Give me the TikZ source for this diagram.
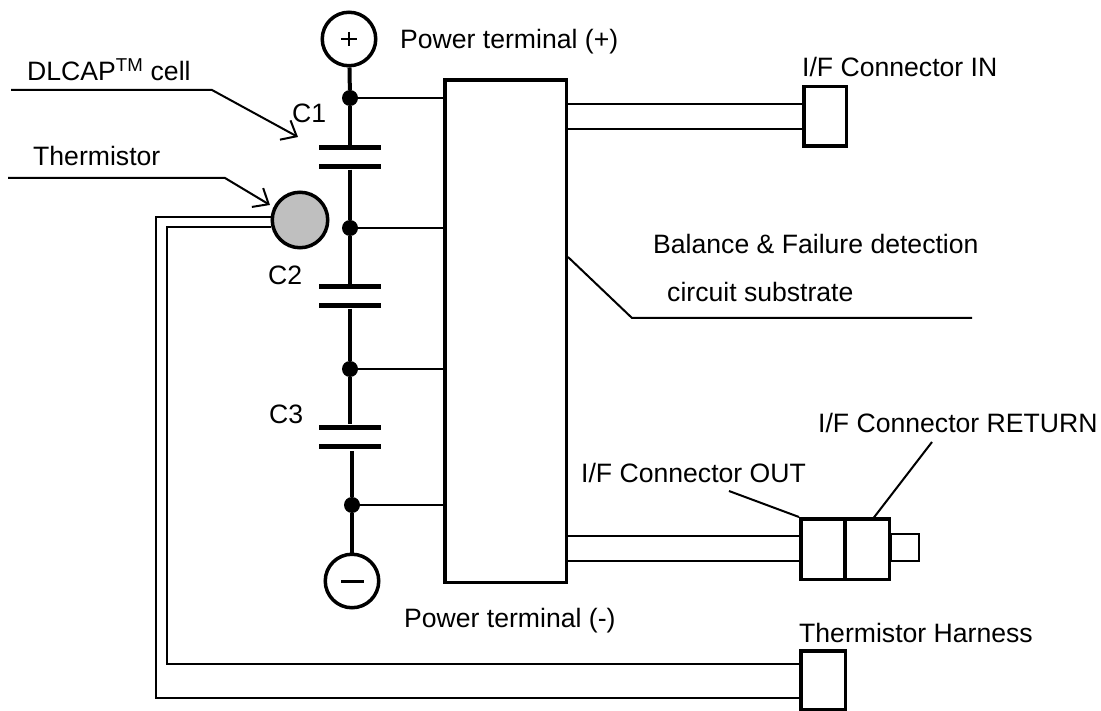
\documentclass[tikz,border=0pt]{standalone}
\usepackage{fontspec}
\setmainfont{Liberation Sans}
\usetikzlibrary{arrows.meta}
\tikzset{
    term/.style={draw, circle, line width=3.5pt, minimum size=53.5pt, inner sep=0pt, fill=white},
    plate/.style={fill=black, minimum width=62pt, minimum height=5pt, inner sep=0pt},
    dot/.style={fill=black, circle, minimum size=16pt, inner sep=0pt},
    conn/.style={draw, line width=3.5pt, inner sep=0pt, fill=white},
    lead/.style={line width=4pt},
    wire/.style={line width=2pt},
    ptr/.style={line width=2pt, -{Straight Barb[length=13pt,width=22pt]}},
    lbl/.style={anchor=base west, inner sep=0pt, font=\fontsize{26.6}{26.6}\selectfont},
}
\newcommand{\drawplates}[3]{
    \node[plate] (#1a) at (350,#2) {};
    \node[plate] (#1b) at (350,#3) {};
}
\begin{document}
\begin{tikzpicture}[x=1pt,y=-1pt]
\useasboundingbox (0,0) rectangle (1101,711);
%Terminals
\node[term] (tplus) at (349,39) {};
\node[term] (tminus) at (352,581) {};
\draw[line width=2.5pt] (341,39) -- (357,39) (349,32) -- (349,46);
\draw[line width=3pt] (341,581) -- (364,581);
%Capacitors
\drawplates{cone}{148}{167}
\drawplates{ctwo}{287}{306}
\drawplates{cthree}{427}{446}
%Junctions
\node[dot] (jone) at (350,98) {};
\node[dot] (jtwo) at (350,228) {};
\node[dot] (jthree) at (350,369) {};
\node[dot] (jfour) at (352,505) {};
%Substrate
\node[conn, minimum width=121.5pt, minimum height=502.5pt] (block) at (505.5,331.3) {};
%Connectors
\node[conn, minimum width=42.5pt, minimum height=59.5pt] (conin) at (825,116.5) {};
\node[draw, line width=2pt, minimum width=28pt, minimum height=27pt, inner sep=0pt] (conend) at (904.5,547.5) {};
\node[conn, minimum width=43.5pt, minimum height=60.5pt] (conout) at (822.5,549) {};
\node[conn, minimum width=44.5pt, minimum height=60.5pt] (conret) at (867,549) {};
\node[conn, minimum width=44.5pt, minimum height=59pt] (conharn) at (823,680.5) {};
%Thermistor
\node[term, fill=black!25, minimum size=55.5pt] (therm) at (300,220) {};
%Vertical line
\draw[lead] (tplus) -- (jone);
\draw[lead] (jone) -- (conea);
\draw[lead] (coneb) -- (jtwo);
\draw[lead] (jtwo) -- (ctwoa);
\draw[lead] (ctwob) -- (jthree);
\draw[lead] (jthree) -- (cthreea);
\draw[lead] (352,451) -- (jfour);
\draw[lead] (jfour) -- (tminus);
%To substrate
\draw[wire] (jone) -- (jone -| block.west);
\draw[wire] (jtwo) -- (jtwo -| block.west);
\draw[wire] (jthree) -- (jthree -| block.west);
\draw[wire] (jfour) -- (jfour -| block.west);
%Harnesses
\draw[wire] (block.east |- 0,104) -- (conin.west |- 0,104);
\draw[wire] (block.east |- 0,129) -- (conin.west |- 0,129);
\draw[wire] (block.east |- 0,536) -- (conout.west |- 0,536);
\draw[wire] (block.east |- 0,561) -- (conout.west |- 0,561);
\draw[wire] (therm.west |- 0,217) -| (156,698) -- (conharn.west |- 0,698);
\draw[wire] (therm.west |- 0,227) -| (167,664) -- (conharn.west |- 0,664);
%Pointers
\draw[ptr] (11,90) -- (212,90) -- (298,137);
\draw[ptr] (8,178) -- (225,178) -- (270,205);
\draw[wire] (block.east |- 0,257) -- (632,318) -- (972,318);
\draw[wire] (conout.north west) -- (729,491);
\draw[wire] (872,520) -- (932,442);
%Labels
\node[lbl] (lplus) at (400,49) {Power terminal (+)};
\node[lbl] (lminus) at (404,627) {Power terminal (-)};
\node[lbl] (lcell) at (27,81) {DLCAP\textsuperscript{TM} cell};
\node[lbl] (ltherm) at (33,166) {Thermistor};
\node[lbl] (lcone) at (292,123) {C1};
\node[lbl] (lctwo) at (268,285) {C2};
\node[lbl] (lcthree) at (269,424) {C3};
\node[lbl] (lin) at (802,77) {I/F Connector IN};
\node[lbl] (lbal) at (653,254) {Balance \& Failure detection};
\node[lbl] (lsub) at (667,302) {circuit substrate};
\node[lbl] (lret) at (818,432) {I/F Connector RETURN};
\node[lbl] (lout) at (581,482) {I/F Connector OUT};
\node[lbl] (lharn) at (799,642) {Thermistor Harness};
\end{tikzpicture}
\end{document}
